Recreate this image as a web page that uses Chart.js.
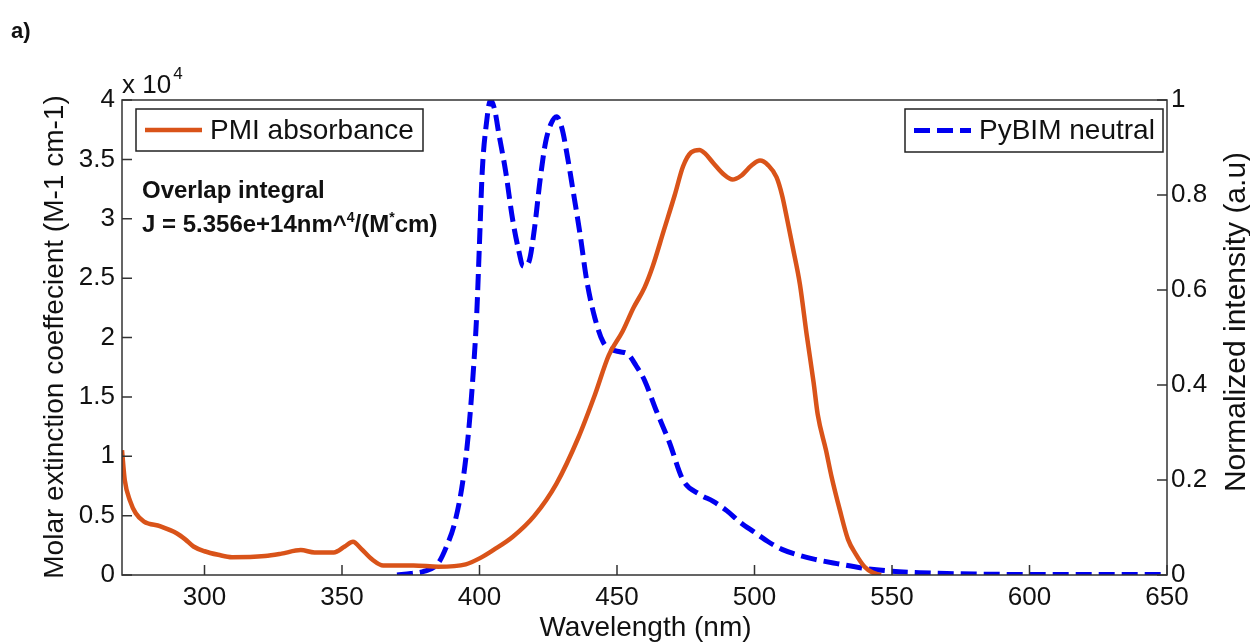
<!DOCTYPE html>
<html lang="en">
<head>
  <meta charset="UTF-8" />
  <title>PMI absorbance / PyBIM emission overlap</title>
  <script src="https://cdn.jsdelivr.net/npm/chart.js"></script>
  <style>
    body { margin: 0; background: #fff; }
    canvas { display: block; }
  </style>
</head>
<body>
  <canvas id="overlapChart" width="1250" height="644"></canvas>

  <script>
    // PMI absorbance, molar extinction coefficient in units of 10^4 M-1 cm-1
    const pmiWavelength = [270, 271, 273, 275, 278, 284, 290, 293, 296, 300, 305, 310, 322, 328, 335, 340, 347, 351, 354, 357,
      361, 365, 376, 385, 395, 400, 405, 412, 420, 428, 436, 442, 447, 452, 456, 460, 463, 467, 471, 474,
      477, 480, 482, 485, 489, 492, 495, 499, 502, 505, 508, 510, 512, 514, 516.5, 519, 521.5, 523, 526, 528,
      531, 534, 537, 540, 543, 546];
    const pmiAbsorbance = [1.05, 0.8, 0.62, 0.52, 0.45, 0.41, 0.35, 0.3, 0.24, 0.2, 0.17, 0.15, 0.16, 0.18, 0.21, 0.19, 0.19, 0.24, 0.28, 0.22,
      0.13, 0.08, 0.08, 0.07, 0.09, 0.14, 0.21, 0.32, 0.5, 0.77, 1.16, 1.52, 1.85, 2.05, 2.25, 2.42, 2.6, 2.9, 3.2, 3.44,
      3.56, 3.58, 3.55, 3.47, 3.37, 3.33, 3.36, 3.45, 3.49, 3.45, 3.35, 3.2, 2.98, 2.75, 2.45, 2.02, 1.62, 1.35, 1.05, 0.83,
      0.55, 0.3, 0.17, 0.07, 0.02, 0];

    // PyBIM neutral emission, normalized intensity
    const pybimWavelength = [370, 375, 380, 385, 388, 391, 394, 396, 398, 399, 400, 401, 402.5, 404, 405.5, 407, 409.5, 412, 414, 416,
      418, 420, 422, 424, 426, 428, 430, 432, 434, 436.5, 439, 442, 445, 448, 451, 454, 457, 460, 464, 469,
      474, 480, 485, 490, 495, 500, 505, 510, 516, 522, 530, 540, 550, 560, 570, 580, 600, 650];
    const pybimIntensity = [0, 0.003, 0.008, 0.025, 0.06, 0.11, 0.2, 0.3, 0.45, 0.55, 0.7, 0.85, 0.95, 1.0, 0.98, 0.93, 0.85, 0.75, 0.69, 0.65,
      0.66, 0.73, 0.83, 0.91, 0.95, 0.965, 0.94, 0.88, 0.81, 0.72, 0.62, 0.54, 0.49, 0.475, 0.47, 0.465, 0.44, 0.41, 0.35, 0.28,
      0.2, 0.17, 0.155, 0.135, 0.11, 0.09, 0.07, 0.054, 0.042, 0.033, 0.024, 0.014, 0.008, 0.005, 0.003, 0.002, 0.001, 0.001];

    const xTicks = [300, 350, 400, 450, 500, 550, 600, 650];
    const leftTicks = [0, 0.5, 1, 1.5, 2, 2.5, 3, 3.5, 4];
    const rightTicks = [0, 0.2, 0.4, 0.6, 0.8, 1];

    const FONT = "'Liberation Sans', Arial, sans-serif";
    const AXIS_COLOR = '#333';

    function setTicks(values) {
      return scale => { scale.ticks = values.map(v => ({ value: v })); };
    }

    // Frame, inward ticks, titles, legends and annotation (MATLAB look)
    const decorations = {
      id: 'decorations',
      afterDraw(chart) {
        const { ctx, chartArea: a, scales } = chart;
        ctx.save();

        ctx.strokeStyle = AXIS_COLOR;
        ctx.lineWidth = 1.5;
        ctx.strokeRect(a.left, a.top, a.right - a.left, a.bottom - a.top);
        ctx.beginPath();
        xTicks.forEach(v => {
          const px = scales.x.getPixelForValue(v);
          ctx.moveTo(px, a.bottom); ctx.lineTo(px, a.bottom - 10);
        });
        leftTicks.forEach(v => {
          const py = scales.y.getPixelForValue(v);
          ctx.moveTo(a.left, py); ctx.lineTo(a.left + 10, py);
        });
        rightTicks.forEach(v => {
          const py = scales.y2.getPixelForValue(v);
          ctx.moveTo(a.right, py); ctx.lineTo(a.right - 10, py);
        });
        ctx.stroke();

        // axis titles
        ctx.fillStyle = '#111';
        ctx.textAlign = 'center';
        ctx.textBaseline = 'alphabetic';
        ctx.font = '28px ' + FONT;
        ctx.fillText('Wavelength (nm)', (a.left + a.right) / 2 + 1, 636);

        ctx.save();
        ctx.translate(63, 337);
        ctx.rotate(-Math.PI / 2);
        ctx.fillText('Molar extinction coeffecient (M-1 cm-1)', 0, 0);
        ctx.restore();

        ctx.save();
        ctx.font = '30px ' + FONT;
        ctx.translate(1245, 322);
        ctx.rotate(-Math.PI / 2);
        ctx.fillText('Normalized intensity (a.u)', 0, 0);
        ctx.restore();

        // exponent label above the left axis
        ctx.textAlign = 'left';
        ctx.font = '26px ' + FONT;
        ctx.fillText('x 10', 122, 93);
        const expX = 122 + ctx.measureText('x 10').width + 2;
        ctx.font = '17px ' + FONT;
        ctx.fillText('4', expX, 79);

        // panel label
        ctx.font = 'bold 22px ' + FONT;
        ctx.fillText('a)', 11, 38);

        // overlap integral annotation
        ctx.font = 'bold 24px ' + FONT;
        ctx.fillText('Overlap integral', 142, 198);
        let x = 142;
        const base = 232;
        const parts = [
          ['J = 5.356e+14nm^', false], ['4', true], ['/(M', false], ['*', true], ['cm)', false]
        ];
        parts.forEach(([txt, sup]) => {
          ctx.font = sup ? 'bold 14px ' + FONT : 'bold 24px ' + FONT;
          ctx.fillText(txt, x, sup ? base - 10 : base);
          x += ctx.measureText(txt).width;
        });

        // legends
        const ds = chart.data.datasets;
        const drawLegend = (d, box, text) => {
          ctx.fillStyle = '#fff';
          ctx.fillRect(box.x, box.y, box.w, box.h);
          ctx.strokeStyle = '#222';
          ctx.lineWidth = 1.5;
          ctx.strokeRect(box.x, box.y, box.w, box.h);
          const my = box.y + box.h / 2;
          ctx.strokeStyle = d.borderColor;
          ctx.lineWidth = d.borderWidth;
          ctx.setLineDash(d.borderDash || []);
          ctx.beginPath();
          ctx.moveTo(box.x + 9, my); ctx.lineTo(box.x + 66, my);
          ctx.stroke();
          ctx.setLineDash([]);
          ctx.fillStyle = '#111';
          ctx.font = '28px ' + FONT;
          ctx.textBaseline = 'middle';
          ctx.fillText(text, box.x + 74, my + 1);
        };
        drawLegend(ds[0], { x: 136, y: 109, w: 287, h: 42 }, ds[0].label);
        drawLegend(ds[1], { x: 905, y: 109, w: 258, h: 43 }, ds[1].label);

        ctx.restore();
      }
    };

    const tickFont = { family: FONT, size: 26 };

    const ctx = document.getElementById('overlapChart').getContext('2d');
    const overlapChart = new Chart(ctx, {
      type: 'scatter',
      data: {
        datasets: [{
          label: 'PMI absorbance',
          data: pmiWavelength.map((w, i) => ({ x: w, y: pmiAbsorbance[i] })),
          yAxisID: 'y',
          showLine: true,
          borderColor: '#D95319',
          borderWidth: 4.5,
          pointRadius: 0,
          cubicInterpolationMode: 'monotone'
        }, {
          label: 'PyBIM neutral',
          data: pybimWavelength.map((w, i) => ({ x: w, y: pybimIntensity[i] })),
          yAxisID: 'y2',
          showLine: true,
          borderColor: '#0000F0',
          borderWidth: 5,
          borderDash: [16, 7],
          pointRadius: 0,
          cubicInterpolationMode: 'monotone'
        }]
      },
      options: {
        responsive: false,
        animation: false,
        layout: { padding: { top: 100, left: 0, right: 0, bottom: 0 } },
        plugins: {
          legend: { display: false },
          tooltip: { enabled: false }
        },
        scales: {
          x: {
            type: 'linear',
            min: 270,
            max: 650,
            afterBuildTicks: setTicks(xTicks),
            afterFit: s => { s.height = 69; },
            grid: { display: false, drawTicks: false },
            border: { display: false },
            ticks: { color: '#111', font: tickFont, padding: 7, maxRotation: 0 }
          },
          y: {
            position: 'left',
            min: 0,
            max: 4,
            afterBuildTicks: setTicks(leftTicks),
            afterFit: s => { s.width = 122; },
            grid: { display: false, drawTicks: false },
            border: { display: false },
            ticks: { color: '#111', font: tickFont, padding: 7, callback: v => String(v) }
          },
          y2: {
            position: 'right',
            min: 0,
            max: 1,
            afterBuildTicks: setTicks(rightTicks),
            afterFit: s => { s.width = 83; },
            grid: { display: false, drawTicks: false },
            border: { display: false },
            ticks: { color: '#111', font: tickFont, padding: 4, callback: v => String(v) }
          }
        }
      },
      plugins: [decorations]
    });
  </script>
</body>
</html>
